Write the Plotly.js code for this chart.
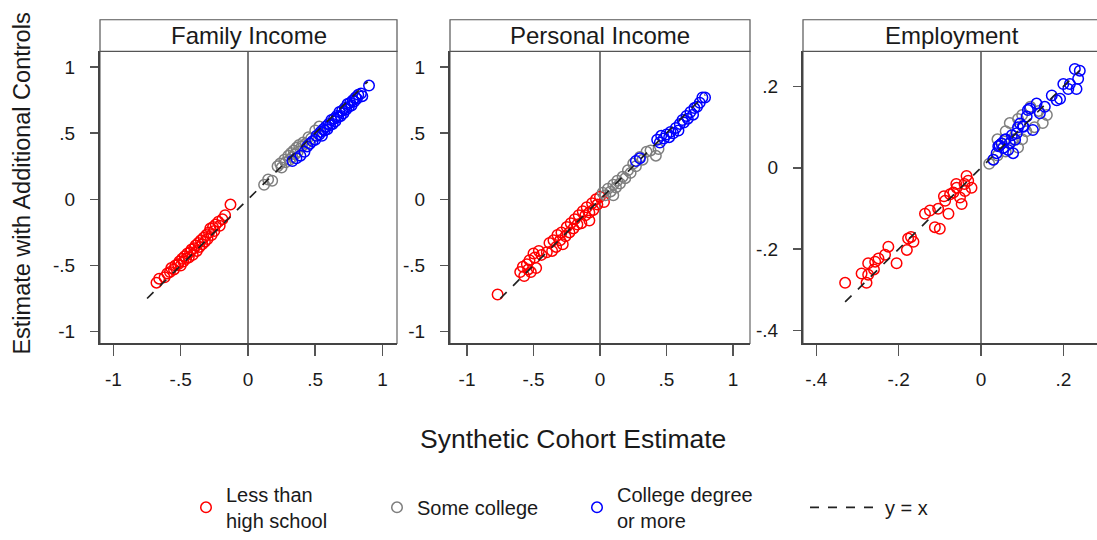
<!DOCTYPE html>
<html><head><meta charset="utf-8">
<script src="https://cdn.plot.ly/plotly-3.0.1.min.js"></script>
<style>html,body{margin:0;padding:0;background:#fff}#chart{width:1097px;height:540px}</style>
</head><body><div id="chart"></div>
<script>
// ---------- data ----------
const panelTitles = ["Family Income", "Personal Income", "Employment"];
const groupNames = ["Less than<br>high school", "Some college", "College degree<br>or more"];
const lineName = "y = x";

const incomeTickVals = [-1, -0.5, 0, 0.5, 1];
const incomeTickText = ["-1", "-.5", "0", ".5", "1"];
const empTickVals = [-0.4, -0.2, 0, 0.2];
const empTickText = ["-.4", "-.2", "0", ".2"];

// Family income
const famLessX = [-0.68,-0.66,-0.62,-0.60,-0.58,-0.57,-0.55,-0.54,-0.52,-0.51,-0.50,-0.49,-0.48,-0.47,-0.46,-0.45,-0.44,-0.43,-0.42,-0.41,-0.40,-0.39,-0.38,-0.37,-0.36,-0.35,-0.34,-0.33,-0.32,-0.31,-0.30,-0.29,-0.28,-0.27,-0.26,-0.25,-0.24,-0.22,-0.21,-0.19,-0.17,-0.13];
const famLessY = [-0.63,-0.60,-0.59,-0.56,-0.55,-0.52,-0.53,-0.50,-0.49,-0.47,-0.50,-0.45,-0.47,-0.43,-0.45,-0.41,-0.44,-0.40,-0.38,-0.42,-0.37,-0.35,-0.39,-0.33,-0.36,-0.31,-0.34,-0.29,-0.32,-0.27,-0.30,-0.25,-0.22,-0.27,-0.21,-0.24,-0.19,-0.17,-0.20,-0.15,-0.12,-0.04];
const famSomeX = [0.12,0.15,0.18,0.22,0.24,0.25,0.27,0.28,0.30,0.31,0.32,0.33,0.34,0.35,0.36,0.37,0.38,0.40,0.41,0.43,0.45,0.47,0.50,0.53];
const famSomeY = [0.11,0.15,0.14,0.25,0.27,0.24,0.30,0.28,0.33,0.30,0.35,0.32,0.37,0.34,0.39,0.36,0.41,0.40,0.43,0.42,0.47,0.46,0.52,0.55];
const famCollX = [0.33,0.36,0.39,0.42,0.44,0.46,0.48,0.50,0.51,0.53,0.54,0.55,0.56,0.57,0.58,0.59,0.60,0.61,0.62,0.63,0.64,0.65,0.66,0.67,0.68,0.69,0.70,0.71,0.72,0.73,0.74,0.75,0.76,0.77,0.78,0.79,0.80,0.81,0.82,0.84,0.85,0.90];
const famCollY = [0.29,0.31,0.33,0.36,0.40,0.42,0.44,0.45,0.48,0.49,0.51,0.48,0.53,0.52,0.55,0.53,0.57,0.56,0.60,0.57,0.61,0.59,0.63,0.62,0.66,0.63,0.67,0.65,0.69,0.68,0.72,0.70,0.73,0.71,0.75,0.74,0.77,0.76,0.79,0.80,0.78,0.86];
const famLine = [-0.75, 0.89];

// Personal income
const persLessX = [-0.77,-0.60,-0.58,-0.57,-0.55,-0.54,-0.53,-0.52,-0.50,-0.49,-0.48,-0.46,-0.44,-0.40,-0.38,-0.36,-0.35,-0.33,-0.32,-0.30,-0.29,-0.28,-0.26,-0.25,-0.23,-0.22,-0.20,-0.19,-0.17,-0.16,-0.14,-0.13,-0.11,-0.10,-0.08,-0.08,-0.06,-0.05,-0.03,-0.02,0.00,0.03];
const persLessY = [-0.72,-0.55,-0.51,-0.58,-0.49,-0.53,-0.46,-0.55,-0.41,-0.44,-0.52,-0.39,-0.42,-0.40,-0.33,-0.39,-0.31,-0.36,-0.27,-0.31,-0.25,-0.34,-0.28,-0.21,-0.25,-0.18,-0.22,-0.15,-0.19,-0.12,-0.18,-0.09,-0.12,-0.06,-0.10,-0.16,-0.03,-0.08,0.00,-0.04,0.02,-0.02];
const persSomeX = [0.02,0.04,0.06,0.08,0.10,0.10,0.12,0.13,0.15,0.17,0.19,0.21,0.23,0.25,0.27,0.30,0.32,0.35,0.38,0.42,0.44];
const persSomeY = [0.05,0.03,0.08,0.06,0.11,0.03,0.09,0.14,0.12,0.17,0.16,0.22,0.20,0.27,0.25,0.32,0.30,0.36,0.37,0.33,0.38];
const persCollX = [0.27,0.30,0.43,0.45,0.46,0.48,0.50,0.52,0.53,0.55,0.57,0.59,0.60,0.62,0.63,0.65,0.66,0.68,0.70,0.71,0.73,0.75,0.77,0.79];
const persCollY = [0.29,0.31,0.45,0.43,0.48,0.46,0.49,0.47,0.51,0.50,0.54,0.52,0.57,0.60,0.58,0.63,0.61,0.66,0.64,0.69,0.70,0.73,0.77,0.77];
const persLine = [-0.75, 0.79];

// Employment
const empLessX = [-0.330,-0.278,-0.274,-0.274,-0.257,-0.249,-0.225,-0.205,-0.233,-0.180,-0.177,-0.164,-0.136,-0.112,-0.100,-0.124,-0.104,-0.079,-0.087,-0.075,-0.067,-0.051,-0.047,-0.039,-0.031,-0.023,-0.059,-0.035,-0.26,-0.29,-0.17,-0.09,-0.06,-0.04];
const empLessY = [-0.283,-0.283,-0.263,-0.235,-0.231,-0.223,-0.194,-0.235,-0.214,-0.202,-0.174,-0.182,-0.113,-0.146,-0.150,-0.105,-0.101,-0.113,-0.081,-0.065,-0.061,-0.073,-0.089,-0.057,-0.032,-0.049,-0.049,-0.020,-0.25,-0.26,-0.17,-0.07,-0.04,-0.04];
const empSomeX = [0.02,0.03,0.04,0.05,0.06,0.07,0.07,0.08,0.09,0.09,0.10,0.10,0.11,0.12,0.13,0.14,0.15,0.16,0.04,0.06];
const empSomeY = [0.01,0.02,0.03,0.06,0.04,0.06,0.11,0.07,0.05,0.12,0.07,0.13,0.09,0.15,0.10,0.14,0.11,0.13,0.07,0.09];
const empCollX = [0.240,0.228,0.236,0.216,0.212,0.232,0.184,0.172,0.155,0.143,0.119,0.111,0.103,0.095,0.087,0.083,0.070,0.058,0.054,0.042,0.038,0.030,0.066,0.078,0.200,0.192,0.135,0.114,0.102,0.126,0.05,0.06,0.045,0.075,0.09];
const empCollY = [0.239,0.243,0.219,0.206,0.194,0.194,0.166,0.178,0.150,0.134,0.146,0.126,0.101,0.109,0.085,0.069,0.061,0.069,0.049,0.053,0.036,0.020,0.044,0.036,0.206,0.170,0.158,0.142,0.102,0.093,0.06,0.07,0.055,0.08,0.10];
const empLine = [-0.33, 0.24];

// ---------- chart ----------
const W = 1097, H = 540;
const FONT = "Liberation Sans, Arial, sans-serif";
const TXT = "#1a1a1a";
const colors = ["#ff0000", "#7f7f7f", "#0000ff"];
const legendIds = ["legend", "legend2", "legend3"];

const panels = [
  {xa: "x", ya: "y", groups: [[famLessX, famLessY], [famSomeX, famSomeY], [famCollX, famCollY]], line: famLine},
  {xa: "x2", ya: "y2", groups: [[persLessX, persLessY], [persSomeX, persSomeY], [persCollX, persCollY]], line: persLine},
  {xa: "x3", ya: "y3", groups: [[empLessX, empLessY], [empSomeX, empSomeY], [empCollX, empCollY]], line: empLine}
];

const traces = [];
panels.forEach((p, pi) => {
  p.groups.forEach((g, gi) => {
    traces.push({
      type: "scatter", mode: "markers", x: g[0], y: g[1], xaxis: p.xa, yaxis: p.ya,
      name: groupNames[gi], legendgroup: "g" + gi, showlegend: pi === 0, legend: legendIds[gi],
      marker: {symbol: "circle-open", size: 10.5, color: colors[gi], line: {width: 1.5, color: colors[gi]}},
      hoverinfo: "x+y"
    });
  });
});
panels.forEach((p, pi) => {
  traces.push({
    type: "scatter", mode: "lines", x: p.line, y: p.line, xaxis: p.xa, yaxis: p.ya,
    name: lineName, legendgroup: "line", showlegend: pi === 0, legend: "legend4",
    line: {color: "#222222", width: 1.7, dash: "dash"}, hoverinfo: "skip"
  });
});

const yBot = (H - 348) / H, yTop = (H - 52) / H;
const px = v => v / W, py = v => (H - v) / H;

function xax(dom, rng, tv, tt, anchor) {
  return {domain: dom, range: rng, anchor: anchor, tickvals: tv, ticktext: tt,
    showgrid: false, zeroline: true, zerolinecolor: "#7a7a7a", zerolinewidth: 1.3,
    showline: true, linecolor: "#444", linewidth: 2, mirror: false,
    ticks: "outside", ticklen: 11, tickwidth: 1.5, tickcolor: "#555", ticklabelstandoff: 7,
    tickfont: {family: FONT, size: 19, color: TXT}, fixedrange: true};
}
function yax(rng, tv, tt, anchor) {
  return {domain: [yBot, yTop], range: rng, anchor: anchor, tickvals: tv, ticktext: tt,
    showgrid: false, zeroline: false,
    showline: true, linecolor: "#444", linewidth: 2, mirror: false,
    ticks: "outside", ticklen: 8, tickwidth: 1.5, tickcolor: "#555", ticklabelstandoff: 11,
    tickfont: {family: FONT, size: 19, color: TXT}, fixedrange: true};
}

const panelPx = [[100, 397], [450, 750], [803, 1100]];
const shapes = [], annotations = [];
panelPx.forEach((b, i) => {
  shapes.push({type: "rect", xref: "paper", yref: "paper", x0: px(b[0]), x1: px(b[1]), y0: py(52), y1: py(20),
    line: {color: "#555", width: 1.2}, fillcolor: "#ffffff", layer: "above"});
  shapes.push({type: "rect", xref: "paper", yref: "paper", x0: px(b[0]), x1: px(b[1]), y0: py(348), y1: py(52),
    line: {color: "#666", width: 1.2}, fillcolor: "rgba(0,0,0,0)", layer: "below"});
  annotations.push({text: panelTitles[i], xref: "paper", yref: "paper", x: px((b[0] + Math.min(b[1], 1100)) / 2), y: py(36),
    xanchor: "center", yanchor: "middle", showarrow: false, font: {family: FONT, size: 24, color: TXT}});
});
annotations.push({text: "Estimate with Additional Controls", xref: "paper", yref: "paper", x: px(22), y: py(186),
  textangle: -90, xanchor: "center", yanchor: "middle", showarrow: false, font: {family: FONT, size: 23.5, color: TXT}});
annotations.push({text: "Synthetic Cohort Estimate", xref: "paper", yref: "paper", x: px(573), y: py(445),
  xanchor: "center", yanchor: "middle", showarrow: false, font: {family: FONT, size: 26.5, color: TXT}});

function leg(left) {
  return {x: px(left), y: py(514), xanchor: "left", yanchor: "middle", orientation: "h",
    font: {family: FONT, size: 20, color: TXT}, bgcolor: "rgba(0,0,0,0)", borderwidth: 0, itemclick: false, itemdoubleclick: false};
}

const layout = {
  width: W, height: H, margin: {l: 0, r: 0, t: 0, b: 0},
  paper_bgcolor: "#ffffff", plot_bgcolor: "#ffffff",
  showlegend: true,
  xaxis: xax([px(100), px(397)], [-1.100, 1.108], incomeTickVals, incomeTickText, "y"),
  yaxis: yax([-1.090, 1.119], incomeTickVals, incomeTickText, "x"),
  xaxis2: xax([px(450), px(750)], [-1.128, 1.128], incomeTickVals, incomeTickText, "y2"),
  yaxis2: yax([-1.090, 1.119], incomeTickVals, incomeTickText, "x2"),
  xaxis3: xax([px(803), 1], [-0.4323, 0.2818], empTickVals, empTickText, "y3"),
  yaxis3: yax([-0.4323, 0.2866], empTickVals, empTickText, "x3"),
  legend: leg(186), legend2: leg(377), legend3: leg(577),
  legend4: Object.assign(leg(805), {itemwidth: 70}),
  shapes: shapes, annotations: annotations
};

Plotly.newPlot("chart", traces, layout, {displayModeBar: false, staticPlot: true});
</script></body></html>
